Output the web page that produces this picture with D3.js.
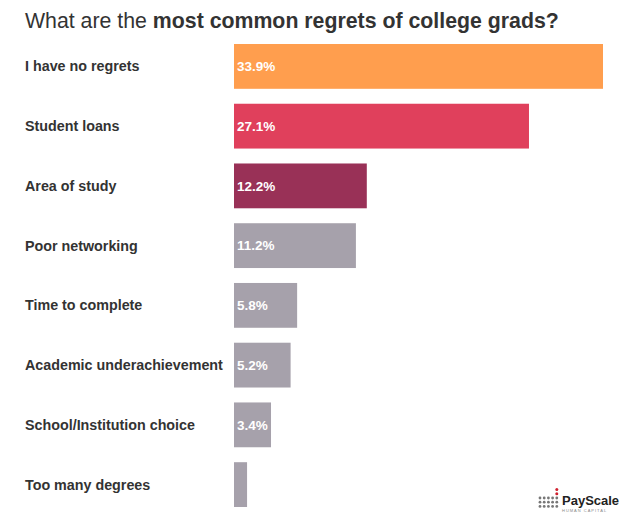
<!DOCTYPE html>
<html><head><meta charset="utf-8">
<script src="https://cdn.jsdelivr.net/npm/d3@7"></script>
<style>body{margin:0;background:#fff}svg{display:block}</style>
</head><body>
<script>
const categories = ["I have no regrets","Student loans","Area of study","Poor networking","Time to complete","Academic underachievement","School/Institution choice","Too many degrees"];
const values = [33.9,27.1,12.2,11.2,5.8,5.2,3.4,1.2];
const valueLabels = ["33.9%","27.1%","12.2%","11.2%","5.8%","5.2%","3.4%",""];
const colors = ["#FF9E4E","#E0405C","#993157","#A6A1AB","#A6A1AB","#A6A1AB","#A6A1AB","#A6A1AB"];

const W=637,H=521;
const svg=d3.select("body").append("svg").attr("width",W).attr("height",H);
const font="'Liberation Sans', Arial, Helvetica, sans-serif";

const title=svg.append("text").attr("x",25).attr("y",28).attr("font-family",font).attr("font-size",21.3).attr("fill","#333");
title.append("tspan").text("What are the ");
title.append("tspan").attr("font-weight","bold").text("most common regrets of college grads?");

const x=d3.scaleLinear().domain([0,33.9]).range([234,603]);
const y=d3.scaleBand().domain(categories).range([44,507]).paddingInner(0.25).paddingOuter(0);
const g=svg.append("g");
categories.forEach((c,i)=>{
  const yy=y(c), h=y.bandwidth();
  g.append("rect").attr("x",x(0)).attr("y",yy).attr("width",x(values[i])-x(0)).attr("height",h).attr("fill",colors[i]);
  g.append("text").attr("x",25).attr("y",yy+h/2).attr("dy","0.35em").attr("font-family",font).attr("font-weight","bold").attr("font-size",14.3).attr("fill","#333").text(c);
  if(valueLabels[i]) g.append("text").attr("x",x(0)+3).attr("y",yy+h/2).attr("dy","0.35em").attr("font-family",font).attr("font-weight","bold").attr("font-size",13.5).attr("fill","#fff").text(valueLabels[i]);
});

// logo
const lg=svg.append("g");
for(let r=0;r<3;r++)for(let cI=0;cI<5;cI++){
  lg.append("circle").attr("cx",540+cI*4.2).attr("cy",498+r*4.2).attr("r",1.4).attr("fill","#777");
}
lg.append("circle").attr("cx",556.8).attr("cy",489.6).attr("r",1.5).attr("fill","#d0202e");
lg.append("circle").attr("cx",556.8).attr("cy",493.8).attr("r",1.5).attr("fill","#d0202e");
lg.append("text").attr("x",562).attr("y",505).attr("font-family",font).attr("font-weight","bold").attr("font-size",13).attr("fill","#222").text("PayScale");
lg.append("text").attr("x",562).attr("y",512).attr("font-family",font).attr("font-size",4).attr("letter-spacing",1).attr("fill","#888").text("HUMAN CAPITAL");
</script>
</body></html>
